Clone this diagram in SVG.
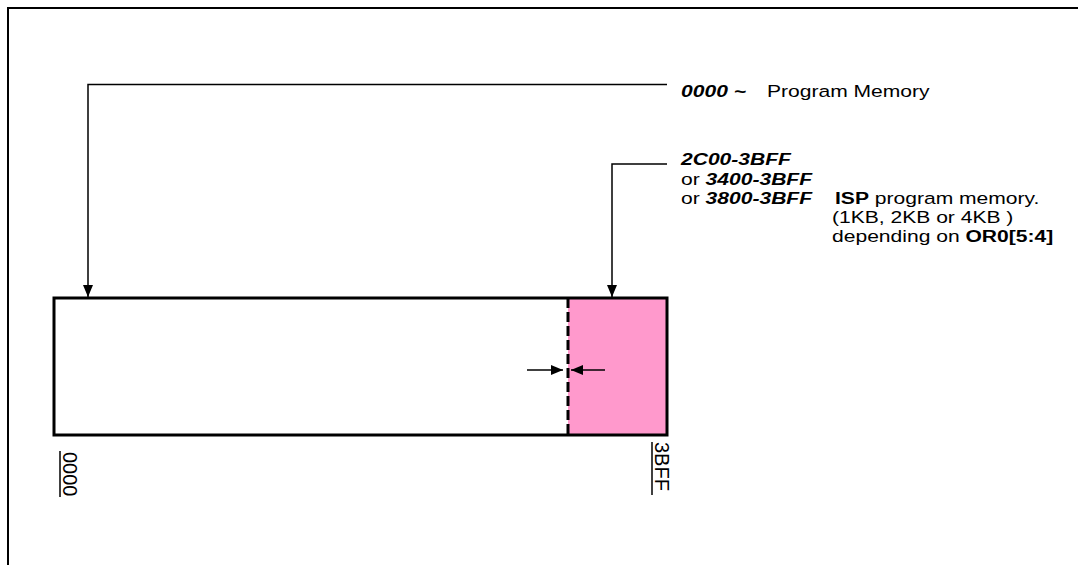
<svg xmlns="http://www.w3.org/2000/svg" width="1078" height="565" viewBox="0 0 1078 565">
<style>
text{font-family:"Liberation Sans",Arial,sans-serif;font-size:17px;fill:#000}
.bi{font-weight:bold;font-style:italic}
.b{font-weight:bold}
.rot{font-size:20px}
.ln{fill:none;stroke:#000;stroke-width:1.5}
</style>
<defs>
<marker id="ah" viewBox="0 0 12 10" refX="12" refY="5" markerWidth="12" markerHeight="10" markerUnits="userSpaceOnUse" orient="auto"><path d="M0,0 L12,5 L0,10 z" fill="#000"/></marker>
</defs>
<rect width="1078" height="565" fill="#fff"/>
<g id="frame"><path d="M8,565 V8 H1078" fill="none" stroke="#000" stroke-width="2"/></g>
<g id="memory">
<rect x="568" y="298" width="99" height="137" fill="#FF99CC"/>
<rect x="54" y="298" width="613" height="137" fill="none" stroke="#000" stroke-width="3"/>
<line x1="568" y1="298" x2="568" y2="435" stroke="#000" stroke-width="3" stroke-dasharray="10,4"/>
</g>
<g id="connectors">
<path class="ln" d="M667,84.5 H88 V297" marker-end="url(#ah)"/>
<path class="ln" d="M667,164 H612 V297" marker-end="url(#ah)"/>
<line class="ln" x1="527" y1="370" x2="563" y2="370" marker-end="url(#ah)"/>
<line class="ln" x1="605" y1="370" x2="571" y2="370" marker-end="url(#ah)"/>
<line x1="60" y1="451" x2="60" y2="497" stroke="#000" stroke-width="1.5"/>
<line x1="652" y1="442" x2="652" y2="495" stroke="#000" stroke-width="1.5"/>
</g>
<g id="label-program">
<text transform="translate(681,97) scale(1.24,1)" class="bi">0000 ~</text>
<text transform="translate(767,97) scale(1.24,1)">Program Memory</text>
</g>
<g id="label-isp">
<text transform="translate(681,165) scale(1.24,1)" class="bi">2C00-3BFF</text>
<text transform="translate(681,184.5) scale(1.24,1)">or <tspan class="bi">3400-3BFF</tspan></text>
<text transform="translate(681,204) scale(1.24,1)">or <tspan class="bi">3800-3BFF</tspan></text>
<text transform="translate(835,204) scale(1.24,1)"><tspan class="b">ISP</tspan> program memory.</text>
<text transform="translate(832,223) scale(1.24,1)">(1KB, 2KB or 4KB )</text>
<text transform="translate(832,242) scale(1.24,1)">depending on <tspan class="b">OR0[5:4]</tspan></text>
</g>
<g id="addr-labels">
<text class="rot" transform="translate(62.5,452) rotate(90)">0000</text>
<text class="rot" transform="translate(655,442) rotate(90)">3BFF</text>
</g>
</svg>
